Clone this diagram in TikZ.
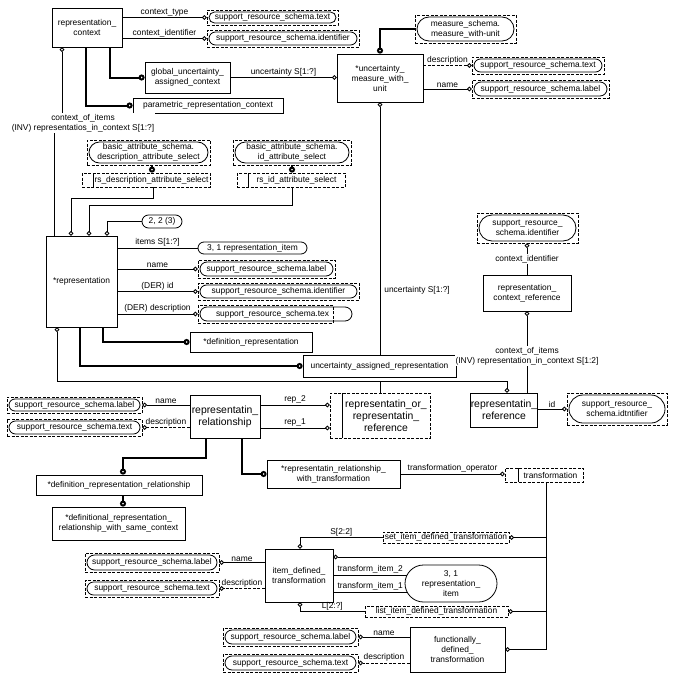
\documentclass[tikz,border=0pt]{standalone}
\usepackage{fontspec}
\setmainfont{Liberation Sans}
\usetikzlibrary{arrows.meta}
\newcommand\nf{\fontsize{8.4}{10}\selectfont}
\newcommand\myBig{\fontsize{10.4}{12}\selectfont}
\newcommand\ent[7]{%
  \pgfmathsetmacro\myrad{((#5)-(#3))/2-2}%
  \pgfmathsetmacro\myradb{((#5)-(#3))/2}%
  \node[#6, minimum width={(#4)-(#2)}, minimum height={(#5)-(#3)}] (#1) at ({((#2)+(#4))/2},{((#3)+(#5))/2}) {#7};}
\tikzset{
  ent/.style={draw, line width=0.8pt},
  ext/.style={draw, line width=0.8pt, dash pattern=on 3pt off 1.5pt,
    path picture={\draw[solid, line width=0.8pt, rounded corners=\myrad pt]
      ([shift={(2pt,2pt)}]path picture bounding box.south west) rectangle
      ([shift={(-2pt,-2pt)}]path picture bounding box.north east);}},
  sel/.style={draw, line width=0.8pt, dash pattern=on 3pt off 1.5pt,
    path picture={\draw[solid, line width=0.8pt]
      ([xshift=#1]path picture bounding box.south west) --
      ([xshift=#1]path picture bounding box.north west);}},
  dt/.style={draw, line width=0.8pt, dash pattern=on 3pt off 1.5pt},
  oval/.style={draw, line width=0.8pt, rounded corners=\myradb pt},
  rel/.style={line width=0.8pt, -{Circle[open,length=4.5pt,width=4.5pt]}},
  sub/.style={line width=2pt, -{Circle[open,length=6pt,width=6pt]}},
  plainln/.style={line width=0.8pt},
  dsh/.style={dash pattern=on 3pt off 1.5pt},
  lbl/.style={font=\nf, inner sep=1pt},
}
\begin{document}
\begin{tikzpicture}[x=1pt,y=-1pt,line width=0.8pt,
  every node/.style={font=\nf, align=center, inner sep=0pt}]
\useasboundingbox[fill=white] (0,0) rectangle (673,680);
% entities
\ent{rc}{52}{8}{122}{47}{ent}{representation\_\\context}
\ent{guc}{145}{62}{230}{93}{ent}{global\_uncertainty\_\\assigned\_context}
\ent{prc}{133}{98}{283}{113}{ent}{parametric\_representation\_context}
\ent{umu}{337}{54}{423}{102}{ent}{*uncertainty\_\\measure\_with\_\\unit}
\ent{rep}{46}{236}{117}{327}{ent}{*representation}
\ent{defrep}{190}{332}{312}{352}{ent}{*definition\_representation}
\ent{uar}{303}{355}{456}{377}{ent}{uncertainty\_assigned\_representation}
\ent{rcr}{483}{275}{571}{311}{ent}{representation\_\\context\_reference}
\ent{rr}{473}{393}{535}{427}{ent,font=\myBig}{representatin\_\\reference}
\ent{rrel}{190}{395}{260}{438}{ent,font=\myBig}{representatin\_\\relationship}
\ent{drr}{36}{475}{202}{495}{ent}{*definition\_representation\_relationship}
\ent{drrsc}{52}{507}{185}{540}{ent}{*definitional\_representation\_\\relationship\_with\_same\_context}
\ent{rrwt}{267}{460}{400}{488}{ent}{*representatin\_relationship\_\\with\_transformation}
\ent{idt}{265}{549}{333}{602}{ent}{item\_defined\_\\transformation}
\ent{fdt}{410}{627}{505}{672}{ent}{functionally\_\\defined\_\\transformation}
% external types
\ent{t1}{207}{10}{338}{25}{ext}{support\_resource\_schema.text}
\ent{t2}{207}{30}{359}{47}{ext}{support\_resource\_schema.identifier}
\ent{msu}{415}{15}{516}{43}{ext}{measure\_schema.\\measure\_with-unit}
\ent{t3}{472}{57}{604}{74}{ext}{support\_resource\_schema.text}
\ent{t4}{472}{80}{609}{98}{ext}{support\_resource\_schema.label}
\ent{bad}{87}{140}{210}{165}{ext}{basic\_attribute\_schema.\\description\_attribute\_select}
\ent{bai}{233}{140}{351}{165}{ext}{basic\_attribute\_schema.\\id\_attribute\_select}
\ent{t5}{198}{260}{335}{278}{ext}{support\_resource\_schema.label}
\ent{t6}{198}{283}{359}{300}{ext}{support\_resource\_schema.identifier}
\draw[line width=0.8pt, rounded corners=7pt] (200,307) rectangle (352,321);
\ent{t7}{198}{305}{333}{323}{dt}{\hspace*{14pt}support\_resource\_schema.tex}
\ent{sri}{477}{213}{578}{243}{ext}{support\_resource\_\\schema.identifier}
\ent{t8}{567}{393}{667}{425}{ext}{support\_resource\_\\schema.idtntifier}
\ent{t9}{7}{397}{142}{413}{ext}{support\_resource\_schema.label}
\ent{t10}{7}{419}{142}{436}{ext}{support\_resource\_schema.text}
\ent{t11}{85}{553}{219}{572}{ext}{support\_resource\_schema.label}
\ent{t12}{85}{580}{219}{597}{ext}{support\_resource\_schema.text}
\ent{t13}{223}{628}{358}{646}{ext}{support\_resource\_schema.label}
\ent{t14}{223}{654}{358}{672}{ext}{support\_resource\_schema.text}
% select types
\ent{rsd}{82}{173}{210}{187}{sel=11pt}{\hspace*{11pt}rs\_description\_attribute\_select}
\ent{rsi}{237}{173}{345}{187}{sel=11pt}{\hspace*{11pt}rs\_id\_attribute\_select}
\ent{ror}{330}{393}{430}{438}{sel=12pt,font=\myBig}{\hspace*{12pt}representatin\_or\_\\\hspace*{12pt}representatin\_\\\hspace*{12pt}reference}
\ent{tr}{505}{468}{583}{482}{sel=13pt}{\hspace*{13pt}transformation}
% defined types
\ent{sidt}{383}{532}{509}{543}{dt}{set\_item\_defined\_transformation}
\ent{lidt}{365}{606}{508}{617}{dt}{list\_item\_defined\_transformation}
% ovals
\ent{o1}{142}{215}{182}{228}{oval}{2, 2 (3)}
\ent{o2}{198}{242}{307}{254}{oval}{3, 1 representation\_item}
\ent{o3}{405}{565}{497}{602}{oval}{3, 1\\representation\_\\item}

% connectors
\draw[rel] (rc.east |- t1.west) -- node[lbl,above]{context\_type} (t1.west);
\draw[rel] (rc.east |- t2.west) -- node[lbl,above]{context\_identifier} (t2.west);
\draw[sub] (110,0 |- rc.south) |- (guc.west);
\draw[sub] (86,0 |- rc.south) |- (prc.west);
\draw[rel] (guc.east) -- node[lbl,above]{uncertainty S[1:?]} (umu.west |- guc.east);
\draw[sub] (msu.west) -| (umu.north);
\draw[rel,dsh] (umu.east |- t3.west) -- node[lbl,above]{description} (t3.west);
\draw[rel] (umu.east |- t4.west) -- node[lbl,above]{name} (t4.west);
\draw[rel] (uar.north -| umu.south) -- (umu.south);
\node[lbl,anchor=west] (lu) at (383,290) {uncertainty S[1:?]};

\draw[rel] (54,0 |- rep.north) -- (54,123) -- (62,123) -- (62,0 |- rc.south);
\node[lbl,fill=white] (lci) at (83,123) {context\_of\_items\\(INV) representatios\_in\_context S[1:?]};

\draw[sub] (152,0 |- bad.south) -- (152,0 |- rsd.north);
\draw[sub] (292,0 |- bai.south) -- (292,0 |- rsi.north);
\draw[rel] (153,0 |- rsd.south) -- (153,198) -- (71,198) -- (71,0 |- rep.north);
\draw[rel] (292,0 |- rsi.south) -- (292,205) -- (89,205) -- (89,0 |- rep.north);
\draw[rel] (o1.west) -| (107,0 |- rep.north);
\draw[plainln] (rep.east |- o2.west) -- node[lbl,above]{items S[1:?]} (o2.west);
\draw[rel] (rep.east |- t5.west) -- node[lbl,above]{name} (t5.west);
\draw[rel] (rep.east |- t6.west) -- node[lbl,above]{(DER) id} (t6.west);
\draw[rel] (rep.east |- t7.west) -- node[lbl,above]{(DER) description} (t7.west);
\draw[sub] (103,0 |- rep.south) |- (defrep.west);
\draw[sub] (80,0 |- rep.south) |- (uar.west);
\coordinate (j1) at (380,381);
\draw[rel] (380,0 |- ror.north) -- (j1) -| (57,0 |- rep.south);
\draw[rel] (j1) -| (507,0 |- rr.north);

\draw[rel] (rcr.north) -- node[lbl,fill=white]{context\_identifier} (rcr.north |- sri.south);
\draw[rel] (527,0 |- rr.north) -- node[lbl,fill=white,pos=0.45]{context\_of\_items\\(INV) representation\_in\_context S[1:2]} (527,0 |- rcr.south);
\draw[rel] (rr.east |- t8.west) -- node[lbl,above]{id} (t8.west);

\draw[rel] (rrel.west |- t9.east) -- node[lbl,above]{name} (t9.east);
\draw[rel,dsh] (rrel.west |- t10.east) -- node[lbl,above]{description} (t10.east);
\draw[rel] (rrel.east |- 0,405) -- node[lbl,above]{rep\_2} (ror.west |- 0,405);
\draw[rel] (rrel.east |- 0,428) -- node[lbl,above]{rep\_1} (ror.west |- 0,428);
\draw[sub] (206,0 |- rrel.south) -- (206,458) -| (123,0 |- drr.north);
\draw[sub] (123,0 |- drr.south) -- (123,0 |- drrsc.north);
\draw[sub] (242,0 |- rrel.south) |- (rrwt.west);
\draw[rel] (rrwt.east) -- node[lbl,above]{transformation\_operator} (tr.west |- rrwt.east);

\draw[rel] (546,0 |- tr.south) |- (fdt.east);
\draw[rel] (546,0 |- sidt.east) -- (sidt.east);
\draw[rel] (546,557) -- (idt.east |- 0,557);
\draw[rel] (546,0 |- lidt.east) -- (lidt.east);
\draw[rel] (sidt.west) -| node[lbl,above,pos=0.25]{S[2:2]} (300,0 |- idt.north);
\draw[rel] (lidt.west) -| node[lbl,above,pos=0.25]{L[2:?]} (300,0 |- idt.south);
\draw[plainln] (idt.east |- 0,575) -- node[lbl,above]{transform\_item\_2} (407,575);
\draw[plainln] (idt.east |- 0,592) -- node[lbl,above]{transform\_item\_1} (407,592);
\draw[rel] (idt.west |- t11.east) -- node[lbl,above]{name} (t11.east);
\draw[rel,dsh] (idt.west |- t12.east) -- node[lbl,above]{description} (t12.east);
\draw[rel] (fdt.west |- t13.east) -- node[lbl,above]{name} (t13.east);
\draw[rel,dsh] (fdt.west |- t14.east) -- node[lbl,above]{description} (t14.east);
\end{tikzpicture}
\end{document}
